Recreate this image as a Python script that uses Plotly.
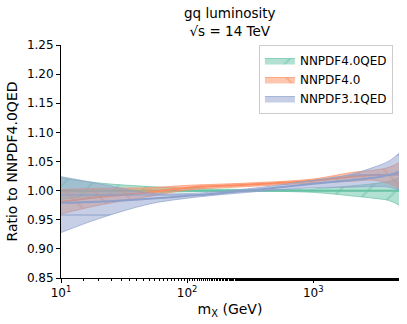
import plotly.graph_objects as go

mx = [10, 20, 50, 100, 300, 1000, 2000, 3000, 4000, 5000]

qed40_mid = [1.0, 1.0, 1.0, 1.0, 1.0, 1.0, 1.0, 1.0, 1.0, 1.0]
qed40_lo = [0.985, 0.992, 0.996, 0.998, 0.999, 0.997, 0.991, 0.987, 0.983, 0.973]
qed40_hi = [1.022, 1.013, 1.007, 1.004, 1.002, 1.003, 1.008, 1.012, 1.016, 1.024]

n40_mid = [0.981, 0.989, 0.997, 1.005, 1.010, 1.017, 1.024, 1.027, 1.027, 1.029]
n40_lo = [0.960, 0.975, 0.990, 1.001, 1.007, 1.013, 1.016, 1.018, 1.012, 1.002]
n40_hi = [1.002, 1.004, 1.005, 1.009, 1.013, 1.020, 1.031, 1.035, 1.040, 1.050]

qed31_mid = [0.979, 0.981, 0.986, 0.991, 1.000, 1.012, 1.018, 1.022, 1.027, 1.034]
qed31_lo = [0.928, 0.952, 0.977, 0.987, 0.997, 1.005, 1.006, 1.007, 1.006, 1.000]
qed31_hi = [1.024, 1.012, 0.996, 0.995, 1.003, 1.018, 1.028, 1.040, 1.051, 1.068]

series = [
    ('NNPDF4.0QED', qed40_mid, qed40_lo, qed40_hi, '102,194,165', '/'),
    ('NNPDF4.0', n40_mid, n40_lo, n40_hi, '252,141,98', '\\'),
    ('NNPDF3.1QED', qed31_mid, qed31_lo, qed31_hi, '141,160,203', '-'),
]

fig = go.Figure()
for name, mid, lo, hi, rgb, hatch in series:
    fig.add_trace(go.Scatter(x=mx, y=lo, mode='lines', line=dict(color=f'rgba({rgb},0.7)', width=1, shape='spline'),
                             showlegend=False, hoverinfo='skip', legendgroup=name))
    fig.add_trace(go.Scatter(x=mx, y=hi, mode='lines', fill='tonexty', name=name, legendgroup=name,
                             line=dict(color=f'rgba({rgb},0.7)', width=1, shape='spline'),
                             fillcolor=f'rgba({rgb},0.5)',
                             fillpattern=dict(shape=hatch, fgcolor=f'rgba({rgb},1)', bgcolor=f'rgba({rgb},0.5)',
                                              size=20, solidity=0.1)))
    fig.add_trace(go.Scatter(x=mx, y=mid, mode='lines', line=dict(color=f'rgb({rgb})', width=2, shape='spline'),
                             showlegend=False, legendgroup=name))

fig.update_layout(
    width=407, height=324,
    margin=dict(l=61, r=8, t=45, b=46),
    plot_bgcolor='white', paper_bgcolor='white',
    font=dict(family='DejaVu Sans', size=12, color='black'),
    legend=dict(x=0.982, xanchor='right', y=1.0, yanchor='top', bordercolor='#cccccc', borderwidth=1,
                bgcolor='rgba(255,255,255,0.8)', font=dict(size=12), tracegroupgap=0),
    annotations=[dict(text='gq luminosity<br>√s = 14 TeV', xref='paper', yref='paper', x=0.5, y=1.018,
                      xanchor='center', yanchor='bottom', showarrow=False, font=dict(size=13.5))],
)
fig.update_xaxes(type='log', range=[1, 3.68], showline=True, linecolor='black', linewidth=1, mirror=False,
                 showgrid=False, zeroline=False, ticks='outside', ticklen=4, tickcolor='black',
                 tickvals=[10, 100, 1000], ticktext=['10<sup>1</sup>', '10<sup>2</sup>', '10<sup>3</sup>'],
                 minor=dict(ticks='outside', ticklen=2, tickcolor='black', showgrid=False),
                 title=dict(text='m<sub>X</sub> (GeV)', standoff=4))
fig.update_yaxes(range=[0.85, 1.25], showline=True, linecolor='black', linewidth=1, showgrid=False, zeroline=False,
                 ticks='outside', ticklen=4, tickcolor='black', dtick=0.05, tickformat='.2f',
                 title=dict(text='Ratio to NNPDF4.0QED', standoff=5))

fig.write_html('out.html', config={'displayModeBar': False},
               post_script="document.body.style.margin='0px';")
